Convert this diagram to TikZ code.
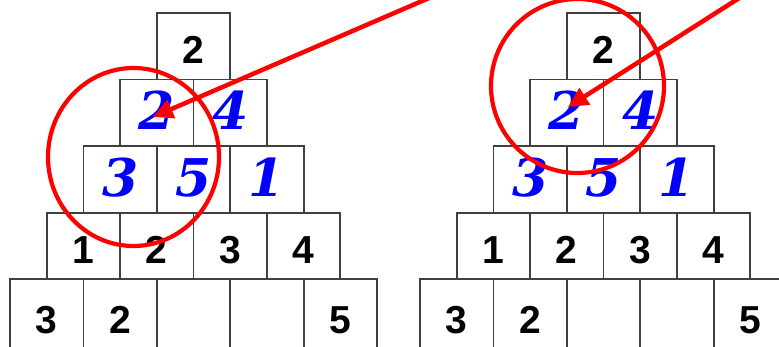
\documentclass[tikz,border=0pt]{standalone}
\usepackage{fontspec}
\setmainfont{Liberation Sans}
\newfontfamily\brushfont{DejaVu Serif}
\usetikzlibrary{arrows.meta}
\definecolor{boxgray}{HTML}{404040}
\definecolor{digitblue}{HTML}{0000FF}
\definecolor{markred}{HTML}{FF0000}
\tikzset{
  cell/.style={draw=boxgray, line width=1.8pt, fill=white, minimum width=73.4pt,
    minimum height=66.6pt, inner sep=0pt, outer sep=0pt, text height=34pt, text depth=0pt,
    font=\fontsize{39}{40}\bfseries\selectfont},
  given/.style={cell},
  base/.style={cell, minimum height=72pt, text height=36pt},
  found/.style={cell, text=digitblue, font=\fontsize{52}{54}\brushfont\bfseries\itshape\selectfont},
  ring/.style={draw=markred, line width=4.2pt},
  pointer/.style={draw=markred, line width=4.5pt,
    -{Triangle[length=20pt, width=19pt]}},
}
\begin{document}
\begin{tikzpicture}[x=1pt, y=-1pt]
\useasboundingbox (0,0) rectangle (779,347);
% column width 73.4, row height 66.6; the base row runs past the lower edge
% ---------- left pyramid (axis x = 193.5) ----------
\node[given] (a1) at (193.5,46.3) {2};
\node[found] (a21) at (156.8,112.9) {2};
\node[found] (a22) at (230.2,112.9) {4};
\node[found] (a31) at (120.1,179.5) {3};
\node[found] (a32) at (193.5,179.5) {5};
\node[found] (a33) at (266.9,179.5) {1};
\node[given] (a41) at (83.4,246.1) {1};
\node[given] (a42) at (156.8,246.1) {2};
\node[given] (a43) at (230.2,246.1) {3};
\node[given] (a44) at (303.6,246.1) {4};
\node[base] (a51) at (46.7,315.4) {3};
\node[base] (a52) at (120.1,315.4) {2};
\node[base] (a53) at (193.5,315.4) {};
\node[base] (a54) at (266.9,315.4) {};
\node[base] (a55) at (340.3,315.4) {5};
% ---------- right pyramid (axis x = 603.5) ----------
\node[given] (b1) at (603.5,46.3) {2};
\node[found] (b21) at (566.8,112.9) {2};
\node[found] (b22) at (640.2,112.9) {4};
\node[found] (b31) at (530.1,179.5) {3};
\node[found] (b32) at (603.5,179.5) {5};
\node[found] (b33) at (676.9,179.5) {1};
\node[given] (b41) at (493.4,246.1) {1};
\node[given] (b42) at (566.8,246.1) {2};
\node[given] (b43) at (640.2,246.1) {3};
\node[given] (b44) at (713.6,246.1) {4};
\node[base] (b51) at (456.7,315.4) {3};
\node[base] (b52) at (530.1,315.4) {2};
\node[base] (b53) at (603.5,315.4) {};
\node[base] (b54) at (676.9,315.4) {};
\node[base] (b55) at (750.3,315.4) {5};
% ---------- red marks ----------
\draw[ring] (133.5,157) ellipse [x radius=85.5, y radius=89];
\draw[ring] (577.5,86) ellipse [x radius=86.5, y radius=87];
\coordinate (ltail) at (436,-5);
\coordinate (ltip) at (153,117);
\coordinate (rtail) at (744,-5);
\coordinate (rtip) at (568,107);
\draw[pointer] (ltail) -- (ltip);
\draw[pointer] (rtail) -- (rtip);
\end{tikzpicture}
\end{document}
